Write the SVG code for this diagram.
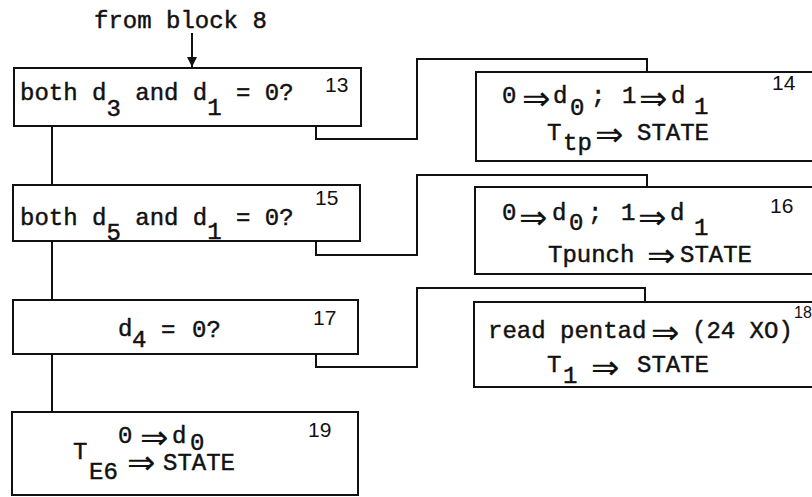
<svg xmlns="http://www.w3.org/2000/svg" width="812" height="497" viewBox="0 0 812 497">
  <style>
    .box { fill: none; stroke: #111; stroke-width: 2; }
    .wire { fill: none; stroke: #111; stroke-width: 2; }
    .t { font-family: "Liberation Mono", "DejaVu Sans Mono", monospace; font-size: 24px; fill: #111; stroke: #111; stroke-width: 0.45; }
    .ar { font-family: "DejaVu Sans", sans-serif; font-size: 34px; fill: #111; }
    .n { font-family: "Liberation Sans", Arial, sans-serif; font-size: 21px; fill: #111; }
  </style>
  <defs>
    <marker id="head" viewBox="0 0 10 10" refX="10" refY="5" markerWidth="10" markerHeight="10" markerUnits="userSpaceOnUse" orient="auto">
      <path d="M0,0 L10,5 L0,10 Z" fill="#111"/>
    </marker>
  </defs>
  <rect width="812" height="497" fill="#fff"/>

  <!-- entry label -->
  <g id="entry">
    <text class="t" x="94" y="28">from block 8</text>
  </g>

  <!-- connectors -->
  <g id="connectors">
    <line class="wire" x1="192" y1="33" x2="192" y2="67" marker-end="url(#head)"/>
    <line class="wire" x1="52" y1="126" x2="52" y2="185"/>
    <line class="wire" x1="52" y1="241" x2="52" y2="300"/>
    <line class="wire" x1="52" y1="354" x2="52" y2="412"/>
    <path class="wire" d="M316,126 V139 H417 V59 H647 V72"/>
    <path class="wire" d="M316,241 V255 H417 V175 H647 V187"/>
    <path class="wire" d="M316,354 V367 H417 V288 H645 V302"/>
  </g>

  <!-- block 13 -->
  <g id="block13">
    <rect class="box" x="14" y="68" width="347" height="58"/>
    <text class="t" x="20" y="100">both d<tspan dy="16">3</tspan><tspan dy="-16"> and d</tspan><tspan dy="15">1</tspan><tspan dy="-15"> = 0?</tspan></text>
    <text class="n" x="325" y="92">13</text>
  </g>

  <!-- block 14 -->
  <g id="block14">
    <rect class="box" x="476" y="72" width="360" height="89"/>
    <text class="t" x="502" y="103">0</text>
    <text class="ar" x="522" y="110">⇒</text>
    <text class="t" x="553" y="103">d</text>
    <text class="t" x="570" y="115">0</text>
    <text class="t" x="591" y="103">;</text>
    <text class="t" x="622" y="103">1</text>
    <text class="ar" x="639" y="110">⇒</text>
    <text class="t" x="671" y="103">d</text>
    <text class="t" x="694" y="114">1</text>
    <text class="t" x="547" y="140">T</text>
    <text class="t" x="563" y="150">tp</text>
    <text class="ar" x="595" y="146">⇒</text>
    <text class="t" x="637" y="140">STATE</text>
    <text class="n" x="772" y="90">14</text>
  </g>

  <!-- block 15 -->
  <g id="block15">
    <rect class="box" x="13" y="185" width="347" height="56"/>
    <text class="t" x="20" y="225">both d<tspan dy="15">5</tspan><tspan dy="-15"> and d</tspan><tspan dy="14">1</tspan><tspan dy="-14"> = 0?</tspan></text>
    <text class="n" x="315" y="205">15</text>
  </g>

  <!-- block 16 -->
  <g id="block16">
    <rect class="box" x="475" y="187" width="360" height="87"/>
    <text class="t" x="502" y="220">0</text>
    <text class="ar" x="519" y="229">⇒</text>
    <text class="t" x="552" y="220">d</text>
    <text class="t" x="569" y="230">0</text>
    <text class="t" x="588" y="220">;</text>
    <text class="t" x="621" y="220">1</text>
    <text class="ar" x="638" y="229">⇒</text>
    <text class="t" x="670" y="220">d</text>
    <text class="t" x="694" y="235">1</text>
    <text class="t" x="548" y="262">Tpunch</text>
    <text class="ar" x="647" y="267">⇒</text>
    <text class="t" x="680" y="262">STATE</text>
    <text class="n" x="770" y="213">16</text>
  </g>

  <!-- block 17 -->
  <g id="block17">
    <rect class="box" x="13" y="300" width="345" height="54"/>
    <text class="t" x="118" y="336">d</text>
    <text class="t" x="132" y="347">4</text>
    <text class="t" x="161" y="337">=</text>
    <text class="t" x="192" y="337">0?</text>
    <text class="n" x="313" y="325">17</text>
  </g>

  <!-- block 18 -->
  <g id="block18">
    <rect class="box" x="474" y="302" width="360" height="85"/>
    <text class="t" x="488" y="338">read pentad</text>
    <text class="ar" x="651" y="344">⇒</text>
    <text class="t" x="692" y="338">(24 XO)</text>
    <text class="t" x="547" y="372">T</text>
    <text class="t" x="563" y="383">1</text>
    <text class="ar" x="591" y="379">⇒</text>
    <text class="t" x="637" y="372">STATE</text>
    <text class="n" x="794" y="318" style="font-size:16px">18</text>
  </g>

  <!-- block 19 -->
  <g id="block19">
    <rect class="box" x="12" y="412" width="346" height="83"/>
    <text class="t" x="118" y="443">0</text>
    <text class="ar" x="140" y="449">⇒</text>
    <text class="t" x="172" y="443">d</text>
    <text class="t" x="190" y="450">0</text>
    <text class="t" x="73" y="459">T</text>
    <text class="t" x="89" y="479">E6</text>
    <text class="ar" x="127" y="474">⇒</text>
    <text class="t" x="163" y="470">STATE</text>
    <text class="n" x="308" y="437">19</text>
  </g>
</svg>
